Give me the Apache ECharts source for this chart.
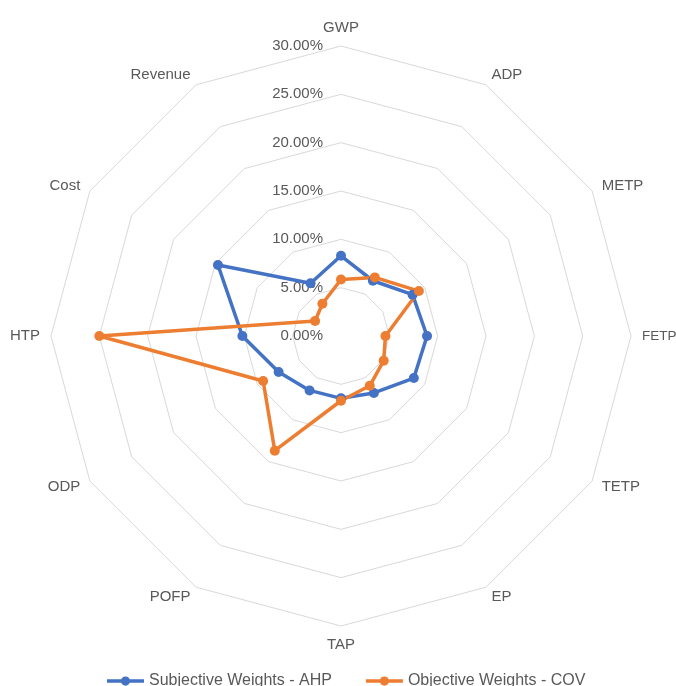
<!DOCTYPE html>
<html>
<head>
<meta charset="utf-8">
<script src="https://cdn.jsdelivr.net/npm/echarts@6/dist/echarts.min.js"></script>
<style>
    html, body { margin: 0; padding: 0; background: #fff; }
    #chart { width: 676px; height: 686px; }
</style>
</head>
<body>
<div id="chart"></div>
<script>
// indicators listed clockwise from the top, values in percent
const indicators = ['GWP', 'ADP', 'METP', 'FETP', 'TETP', 'EP', 'TAP', 'POFP', 'ODP', 'HTP', 'Cost', 'Revenue'];
const ahpWeights = [8.3, 6.6, 8.55, 8.9, 8.7, 6.8, 6.45, 6.5, 7.45, 10.2, 14.7, 6.3];
const covWeights = [5.85, 7.0, 9.3, 4.6, 5.1, 5.95, 6.7, 13.7, 9.3, 25.0, 3.1, 3.85];
const seriesNames = ['Subjective Weights - AHP', 'Objective Weights - COV'];
const axisMax = 30;

const chart = echarts.init(document.getElementById('chart'), null, { renderer: 'canvas' });

// echarts lays indicators out counter-clockwise, so keep the first and flip the rest
const order = [0].concat(indicators.map((_, i) => i).slice(1).reverse());
const pick = arr => order.map(i => arr[i]);

const fontFamily = '"Liberation Sans", Arial, sans-serif';
const textColor = '#595959';

// legend marker: a thick line with a dot in the middle, like excel
const lineDotIcon = 'path://M0,3 H40 V7 H0 Z M25,5 A5,5 0 1,1 15,5 A5,5 0 1,1 25,5 Z';

const option = {
    backgroundColor: '#fff',
    textStyle: { fontFamily: fontFamily },
    legend: {
        data: seriesNames,
        left: 102,
        top: 668,
        icon: lineDotIcon,
        itemWidth: 37,
        itemHeight: 10,
        itemGap: 34,
        textStyle: { color: textColor, fontSize: 16, fontFamily: fontFamily }
    },
    radar: {
        center: [341, 336],
        radius: 290,
        startAngle: 90,
        shape: 'polygon',
        splitNumber: 6,
        nameGap: 11,
        axisName: {
            color: textColor,
            fontSize: 15,
            fontFamily: fontFamily,
            // FETP sits right on the edge, squeeze it a bit
            formatter: name => name === 'FETP' ? '{s|' + name + '}' : name,
            rich: { s: { fontSize: 13.5, color: textColor, fontFamily: fontFamily } }
        },
        axisLine: { show: false },
        axisTick: { show: false },
        splitArea: { show: false },
        splitLine: { lineStyle: { color: '#d9d9d9', width: 1 } },
        axisLabel: {
            show: true,
            color: textColor,
            fontSize: 15,
            margin: 18,
            fontFamily: fontFamily,
            formatter: v => v.toFixed(2) + '%'
        },
        indicator: pick(indicators).map((name, i) => {
            const ind = { name: name, min: 0, max: axisMax };
            // only the GWP axis carries value labels
            if (i > 0) ind.axisLabel = { show: false };
            return ind;
        })
    },
    series: [
        {
            type: 'radar',
            symbol: 'circle',
            symbolSize: 10,
            lineStyle: { width: 3.5, color: '#4472c4' },
            itemStyle: { color: '#4472c4' },
            data: [{ name: seriesNames[0], value: pick(ahpWeights) }]
        },
        {
            type: 'radar',
            symbol: 'circle',
            symbolSize: 10,
            lineStyle: { width: 3.5, color: '#ed7d31' },
            itemStyle: { color: '#ed7d31' },
            data: [{ name: seriesNames[1], value: pick(covWeights) }]
        }
    ]
};

chart.setOption(option);
</script>
</body>
</html>
